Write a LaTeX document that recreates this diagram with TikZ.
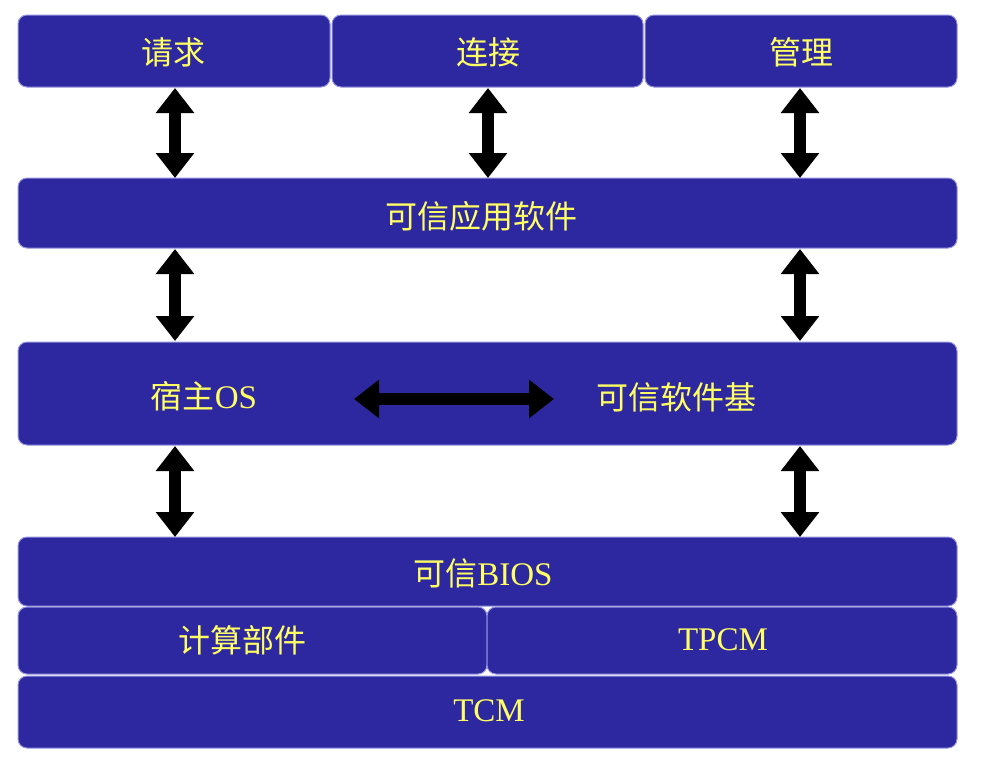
\documentclass[tikz,border=0pt]{standalone}
\usepackage{fontspec}
\setmainfont{Liberation Serif}
\newfontfamily\cjk{Noto Sans CJK SC}
\usetikzlibrary{arrows.meta}
\definecolor{boxblue}{RGB}{46,40,160}
\definecolor{boxline}{RGB}{150,148,225}
\definecolor{txt}{RGB}{255,255,100}
\tikzset{
  layer/.style={draw=boxline, line width=1pt, fill=boxblue, rounded corners=9pt},
  lbl/.style={text=txt, font=\fontsize{32}{34}\selectfont\cjk, inner sep=0pt},
  llbl/.style={text=txt, font=\fontsize{33}{35}\selectfont, inner sep=0pt},
  dbl/.style={line width=12pt, {Triangle[width=37pt,length=25pt]}-{Triangle[width=37pt,length=25pt]}, black},
}
\begin{document}
\begin{tikzpicture}[x=1pt,y=-1pt]
\useasboundingbox (0,0) rectangle (982,772);
% top row
\path[layer] (18,15) rectangle (330,87);
\path[layer] (332,15) rectangle (643,87);
\path[layer] (645,15) rectangle (957,87);
\node[lbl] (q) at (173,52) {请求};
\node[lbl] (c) at (488,52) {连接};
\node[lbl] (m) at (801,52) {管理};
% app
\path[layer] (18,178) rectangle (957,248);
\node[lbl] (app) at (481,216) {可信应用软件};
% middle
\path[layer] (18,342) rectangle (957,445);
\node[llbl] (os) at (204,396) {{\fontsize{32}{34}\selectfont\cjk 宿主}OS};
\node[lbl] (tsb) at (676,397) {可信软件基};
% bios
\path[layer] (18,537) rectangle (957,606);
\node[llbl] (bios) at (483,573) {{\fontsize{32}{34}\selectfont\cjk 可信}BIOS};
\path[layer] (18,607) rectangle (487,674);
\path[layer] (487,607) rectangle (957,674);
\node[lbl] (cp) at (242,640) {计算部件};
\node[llbl] (tpcm) at (723,640) {TPCM};
\path[layer] (18,676) rectangle (957,748);
\node[llbl] (tcm) at (489,711) {TCM};
% coordinates
\coordinate (a1t) at (175,88); \coordinate (a1b) at (175,178);
\coordinate (a2t) at (488,88); \coordinate (a2b) at (488,178);
\coordinate (a3t) at (800,88); \coordinate (a3b) at (800,178);
\coordinate (b1t) at (175,249); \coordinate (b1b) at (175,341);
\coordinate (b3t) at (800,249); \coordinate (b3b) at (800,341);
\coordinate (c1t) at (175,446); \coordinate (c1b) at (175,537);
\coordinate (c3t) at (800,446); \coordinate (c3b) at (800,537);
\coordinate (hl) at (354,399); \coordinate (hr) at (554,399);
\draw[dbl] (a1t) -- (a1b);
\draw[dbl] (a2t) -- (a2b);
\draw[dbl] (a3t) -- (a3b);
\draw[dbl] (b1t) -- (b1b);
\draw[dbl] (b3t) -- (b3b);
\draw[dbl] (c1t) -- (c1b);
\draw[dbl] (c3t) -- (c3b);
\draw[dbl] (hl) -- (hr);
\end{tikzpicture}
\end{document}
